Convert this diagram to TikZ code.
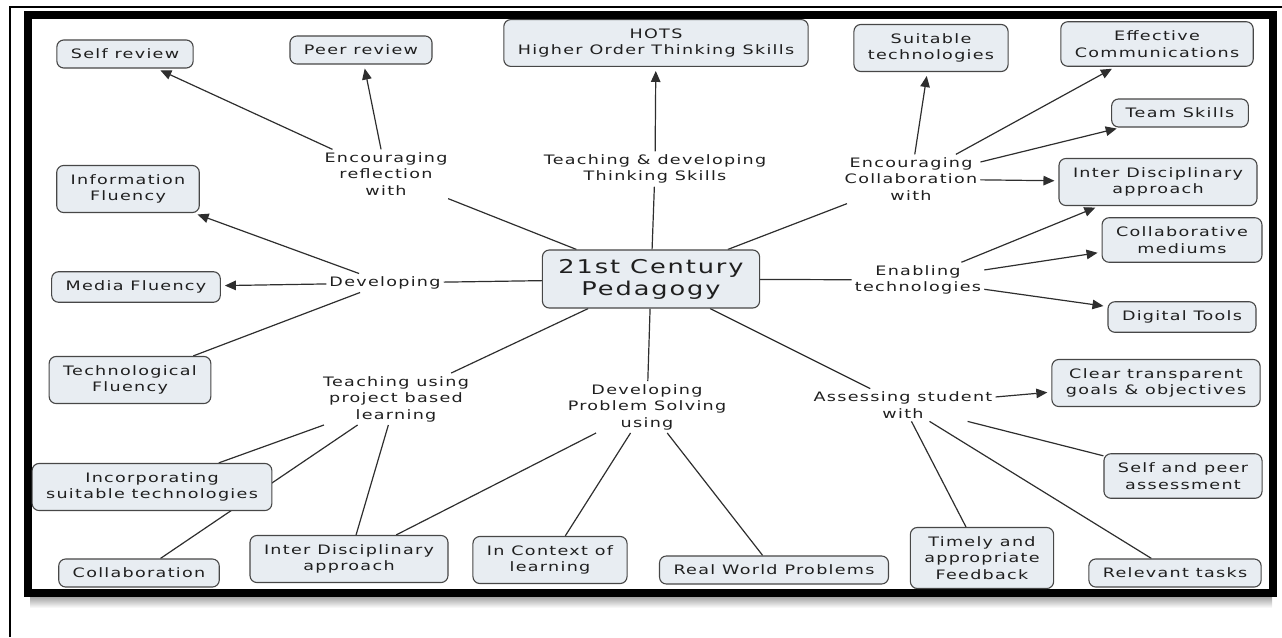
\documentclass[tikz,border=0pt]{standalone}
\usepackage{fontspec}
\setmainfont{DejaVu Sans}[FakeStretch=1.35,LetterSpace=10]
\usetikzlibrary{arrows.meta,backgrounds}
\definecolor{boxfill}{rgb}{.91,.93,.95}
\definecolor{boxline}{rgb}{.28,.28,.28}
\definecolor{linkc}{rgb}{.18,.18,.18}
\definecolor{txt}{rgb}{.12,.12,.12}

\begin{document}
\begin{tikzpicture}[x=1pt,y=-1pt,
  box/.style={draw=boxline, fill=boxfill, rounded corners=7pt, line width=1.1pt,
    inner xsep=14pt, inner ysep=9pt, minimum height=28pt, align=center, text=txt,
    font=\fontsize{13}{16.5}\selectfont},
  lbl/.style={inner sep=3pt, align=center, text=txt, font=\fontsize{13}{16.5}\selectfont},
  link/.style={draw=linkc, line width=1.2pt},
  arr/.style={link, -{Triangle[length=11pt,width=9.5pt]}, shorten >=4pt}]
\useasboundingbox (0,0) rectangle (1282,637);

% frame
\draw[line width=2pt] (9.5,637) -- (9.5,6.5) -- (1282,6.5);
\shade[top color=gray!70, bottom color=white] (30,597) rectangle (1272,608);
\draw[line width=7.5pt] (28,15) rectangle (1273,593);

% centre
\node[box, font=\fontsize{19}{22}\selectfont, inner xsep=16pt] (ped) at (651,279) {21st Century\\Pedagogy};

% linking phrases
\node[lbl] (refl)   at (386,174) {Encouraging\\reflection\\with};
\node[lbl] (think)  at (655,169) {Teaching \& developing\\Thinking Skills};
\node[lbl] (enccol) at (911,179) {Encouraging\\Collaboration\\with};
\node[lbl] (dev)    at (385,283) {Developing};
\node[lbl] (enab)   at (918,280) {Enabling\\technologies};
\node[lbl] (proj)   at (396,399) {Teaching using\\project based\\learning};
\node[lbl] (prob)   at (647,407) {Developing\\Problem Solving\\using};
\node[lbl] (assess) at (903,405) {Assessing student\\with};

% concepts
\node[box] (self)      at (125,54)  {Self review};
\node[box] (peer)      at (361,50)  {Peer review};
\node[box] (hots)      at (656,43)  {HOTS\\Higher Order Thinking Skills};
\node[box] (suit)      at (931,48)  {Suitable\\technologies};
\node[box] (effcom)    at (1157,44) {Effective\\Communications};
\node[box] (team)      at (1180,113) {Team Skills};
\node[box] (interR)    at (1158,182) {Inter Disciplinary\\approach};
\node[box] (infofl)    at (128,189) {Information\\Fluency};
\node[box] (media)     at (136,287) {Media Fluency};
\node[box] (techfl)    at (130,380) {Technological\\Fluency};
\node[box] (collabmed) at (1182,240) {Collaborative\\mediums};
\node[box] (digital)   at (1182,317) {Digital Tools};
\node[box] (clear)     at (1156,383) {Clear transparent\\goals \& objectives};
\node[box] (incorp)    at (152,487) {Incorporating\\suitable technologies};
\node[box] (collab)    at (139,573) {Collaboration};
\node[box] (interB)    at (349,559) {Inter Disciplinary\\approach};
\node[box] (context)   at (550,560) {In Context of\\learning};
\node[box] (realw)     at (774,570) {Real World Problems};
\node[box] (selfpeer)  at (1183,476) {Self and peer\\assessment};
\node[box] (timely)    at (982,558) {Timely and\\appropriate\\Feedback};
\node[box] (relev)     at (1175,573) {Relevant tasks};

\begin{pgfonlayer}{background}
\draw[link] (ped) -- (refl);
\draw[link] (ped) -- (think);
\draw[link] (ped) -- (enccol);
\draw[link] (ped) -- (dev);
\draw[link] (ped) -- (enab);
\draw[link] (ped) -- (proj);
\draw[link] (ped) -- (prob);
\draw[link] (ped) -- (assess);

\draw[arr] (refl) -- (self);
\draw[arr] (refl) -- (peer);
\draw[arr] (think) -- (hots);
\draw[arr] (enccol) -- (suit);
\draw[arr] (enccol) -- (effcom);
\draw[arr] (enccol) -- (team);
\draw[arr] (enccol) -- (interR);
\draw[arr] (dev) -- (infofl);
\draw[arr] (dev) -- (media);
\draw[link] (dev) -- (techfl);
\draw[arr] (enab) -- (interR);
\draw[arr] (enab) -- (collabmed);
\draw[arr] (enab) -- (digital);

\draw[link] (proj) -- (incorp);
\draw[link] (proj) -- (collab);
\draw[link] (proj) -- (interB);
\draw[link] (prob) -- (interB);
\draw[link] (prob) -- (context);
\draw[link] (prob) -- (realw);
\draw[arr] (assess) -- (clear);
\draw[link] (assess) -- (selfpeer);
\draw[link] (assess) -- (timely);
\draw[link] (assess) -- (relev);
\end{pgfonlayer}
\end{tikzpicture}
\end{document}
